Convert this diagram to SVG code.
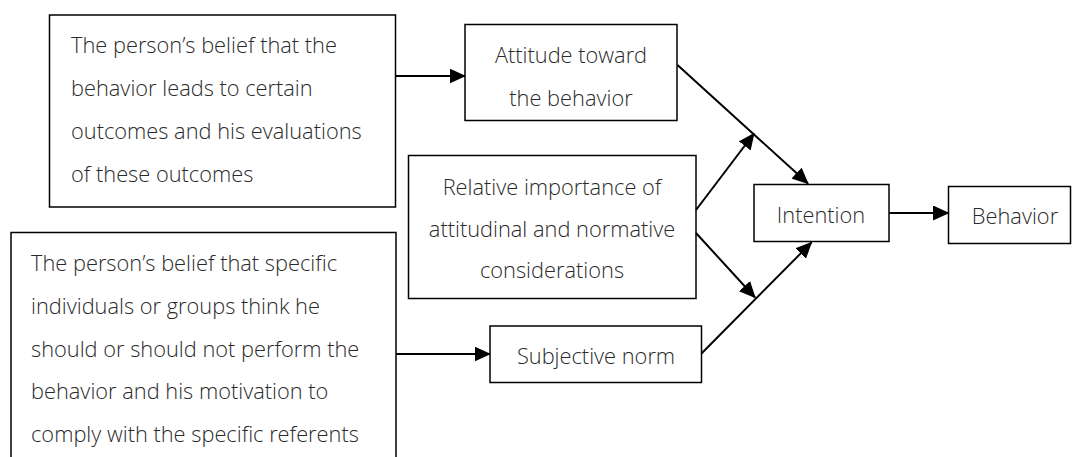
<svg xmlns="http://www.w3.org/2000/svg" width="1072" height="457" viewBox="0 0 1072 457">
  <style>
    .box { fill: #ffffff; stroke: #000000; stroke-width: 1.5; }
    .lbl { font-family: "Open Sans", "Noto Sans", sans-serif; font-size: 21.8px; font-weight: 300; fill: #2a2a2a; }
    .mid { text-anchor: middle; }
    .edge { stroke: #000000; stroke-width: 2; fill: none; marker-end: url(#head); }
  </style>
  <defs>
    <marker id="head" markerUnits="userSpaceOnUse" markerWidth="17" markerHeight="15" refX="15.5" refY="7.5" orient="auto">
      <path d="M0,0 L16.5,7.5 L0,15 Z" fill="#000000"/>
    </marker>
  </defs>

  <rect width="1072" height="457" fill="#ffffff"/>

  <!-- beliefs about outcomes -->
  <g id="outcome-beliefs">
    <rect class="box" x="49.5" y="15" width="346" height="192"/>
    <text class="lbl" x="71" y="53">The person’s belief that the</text>
    <text class="lbl" x="71" y="96">behavior leads to certain</text>
    <text class="lbl" x="71" y="139">outcomes and his evaluations</text>
    <text class="lbl" x="71" y="182">of these outcomes</text>
  </g>

  <!-- normative beliefs -->
  <g id="normative-beliefs">
    <rect class="box" x="11" y="232.5" width="385" height="240"/>
    <text class="lbl" x="31" y="271">The person’s belief that specific</text>
    <text class="lbl" x="31" y="314">individuals or groups think he</text>
    <text class="lbl" x="31" y="357">should or should not perform the</text>
    <text class="lbl" x="31" y="399">behavior and his motivation to</text>
    <text class="lbl" x="31" y="442">comply with the specific referents</text>
  </g>

  <g id="attitude">
    <rect class="box" x="465" y="24.5" width="212" height="96"/>
    <text class="lbl mid" x="571" y="63">Attitude toward</text>
    <text class="lbl mid" x="571" y="106">the behavior</text>
  </g>

  <g id="relative-importance">
    <rect class="box" x="408.5" y="155.5" width="287.5" height="143"/>
    <text class="lbl mid" x="552" y="195">Relative importance of</text>
    <text class="lbl mid" x="552" y="237">attitudinal and normative</text>
    <text class="lbl mid" x="552" y="278">considerations</text>
  </g>

  <g id="subjective-norm">
    <rect class="box" x="490" y="326" width="211.5" height="56.5"/>
    <text class="lbl mid" x="596" y="364">Subjective norm</text>
  </g>

  <g id="intention">
    <rect class="box" x="754" y="184.5" width="135" height="57"/>
    <text class="lbl mid" x="821" y="223">Intention</text>
  </g>

  <g id="behavior">
    <rect class="box" x="948.5" y="186.5" width="122" height="57"/>
    <text class="lbl mid" x="1015" y="224">Behavior</text>
  </g>

  <g id="connectors">
    <line class="edge" x1="396" y1="76" x2="465" y2="76"/>
    <line class="edge" x1="396" y1="354" x2="490" y2="354"/>
    <line class="edge" x1="889" y1="213" x2="948.5" y2="213"/>
    <line class="edge" x1="677.5" y1="65" x2="808" y2="183.5"/>
    <line class="edge" x1="701.5" y1="353.5" x2="811.5" y2="242.5"/>
    <line class="edge" x1="696" y1="210" x2="754" y2="133.5"/>
    <line class="edge" x1="696" y1="233" x2="755" y2="297.5"/>
  </g>
</svg>
